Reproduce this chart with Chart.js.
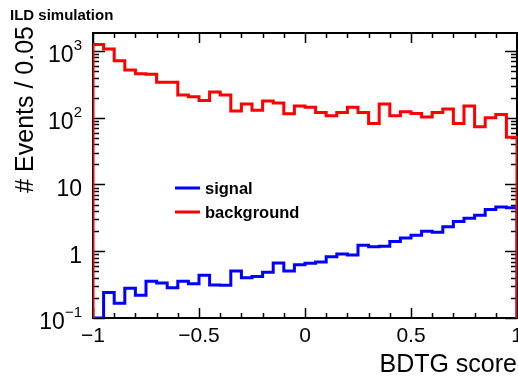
<!DOCTYPE html>
<html>
<head>
<meta charset="utf-8">
<script src="https://cdn.jsdelivr.net/npm/chart.js@4"></script>
<style>
html, body { margin: 0; padding: 0; background: #fff; }
canvas { display: block; }
</style>
</head>
<body>
<canvas id="chart" width="518" height="376"></canvas>
<script>
// histogram bins: 40 bins of width 0.05 from -1 to 1
const binLow = -1;
const binWidth = 0.05;

// signal (blue), events per bin
const signal = [
    0, 0.24, 0.166, 0.28, 0.22, 0.355, 0.335, 0.285, 0.355, 0.327,
    0.437, 0.313, 0.31, 0.507, 0.40, 0.417, 0.484, 0.668, 0.507, 0.63,
    0.66, 0.69, 0.83, 0.91, 0.88, 1.23, 1.17, 1.19, 1.40, 1.58,
    1.74, 2.0, 1.93, 2.32, 2.79, 3.13, 3.47, 4.22, 4.62, 4.47
];

// background (red), events per bin
const background = [
    1250, 1070, 716, 518, 457, 450, 339, 339, 219, 207,
    182, 243, 219, 126, 160, 130, 178, 166, 115, 150,
    143, 120, 107, 120, 143, 120, 82, 160, 107, 123,
    116, 103, 120, 135, 82, 150, 73, 100, 112, 51
];

const seriesLabels = ['signal', 'background'];
const seriesColors = ['#0000ff', '#ff0000'];

// axis ticks
const xTickValues = [-1, -0.5, 0, 0.5, 1];
const xTickLabels = ['\u22121', '\u22120.5', '0', '0.5', '1'];
const yTickValues = [0.1, 1, 10, 100, 1000];
const yTickBase = ['10', '1', '10', '10', '10'];
const yTickExp = ['\u22121', '', '', '2', '3'];

const yMin = 0.1;
const yMax = 1860;

const FONT = '"Liberation Sans", Arial, Helvetica, sans-serif';

// 轉成階梯直方圖的點
function histPoints(values) {
    const pts = [{ x: binLow, y: yMin }];
    values.forEach((v, i) => {
        pts.push({ x: binLow + i * binWidth, y: Math.max(v, yMin) });
    });
    const end = binLow + values.length * binWidth;
    pts.push({ x: end, y: Math.max(values[values.length - 1], yMin) });
    pts.push({ x: end, y: yMin });
    return pts;
}

// frame, inner ticks, tick labels, titles, legend
const rootStyle = {
    id: 'rootStyle',
    beforeDatasetsDraw(chart) {
        const { ctx, chartArea: a, scales } = chart;
        const xs = scales.x, ys = scales.y;
        ctx.save();
        ctx.strokeStyle = '#000';
        ctx.lineWidth = 1.5;
        ctx.beginPath();
        // x ticks every 0.1, major every 0.5
        for (let i = -10; i <= 10; i++) {
            const px = Math.round(xs.getPixelForValue(i / 10)) + 0.5;
            const len = (i % 5 === 0) ? 10 : 5;
            ctx.moveTo(px, a.bottom); ctx.lineTo(px, a.bottom - len);
            ctx.moveTo(px, a.top); ctx.lineTo(px, a.top + len);
        }
        // y log ticks
        for (let d = -1; d <= 3; d++) {
            for (let m = 1; m <= 9; m++) {
                const v = m * Math.pow(10, d);
                if (v < yMin || v > yMax) continue;
                const py = Math.round(ys.getPixelForValue(v)) + 0.5;
                const len = (m === 1) ? 12 : 6;
                ctx.moveTo(a.left, py); ctx.lineTo(a.left + len, py);
                ctx.moveTo(a.right, py); ctx.lineTo(a.right - len, py);
            }
        }
        ctx.stroke();
        ctx.lineWidth = 2;
        ctx.strokeRect(a.left, a.top, a.right - a.left, a.bottom - a.top);
        ctx.restore();
    },
    afterDraw(chart) {
        const { ctx, chartArea: a, scales } = chart;
        const xs = scales.x, ys = scales.y;
        ctx.save();
        ctx.fillStyle = '#000';

        // x tick labels
        ctx.font = '21px ' + FONT;
        ctx.textAlign = 'center';
        ctx.textBaseline = 'middle';
        xTickValues.forEach((v, i) => {
            ctx.fillText(xTickLabels[i], xs.getPixelForValue(v), a.bottom + 18);
        });

        // y tick labels with exponent
        const right = 82;
        yTickValues.forEach((v, i) => {
            const py = ys.getPixelForValue(v) + 5;
            ctx.textAlign = 'left';
            ctx.textBaseline = 'middle';
            ctx.font = '15px ' + FONT;
            const we = yTickExp[i] ? ctx.measureText(yTickExp[i]).width : 0;
            ctx.font = '23px ' + FONT;
            const wb = ctx.measureText(yTickBase[i]).width;
            ctx.fillText(yTickBase[i], right - we - wb, py);
            if (yTickExp[i]) {
                ctx.font = '15px ' + FONT;
                ctx.fillText(yTickExp[i], right - we, py - 10);
            }
        });

        // axis titles
        ctx.font = '25px ' + FONT;
        ctx.textAlign = 'right';
        ctx.textBaseline = 'alphabetic';
        ctx.fillText('BDTG score', 517, 372);

        ctx.save();
        ctx.translate(33, 26);
        ctx.rotate(-Math.PI / 2);
        ctx.font = '25px ' + FONT;
        ctx.textAlign = 'right';
        ctx.fillText('# Events / 0.05', 0, 0);
        ctx.restore();

        // header
        ctx.font = 'bold 15px ' + FONT;
        ctx.textAlign = 'left';
        ctx.fillText('ILD simulation', 10, 20);

        // legend
        ctx.font = 'bold 16.5px ' + FONT;
        ctx.textBaseline = 'middle';
        seriesLabels.forEach((lab, i) => {
            const y = 188 + i * 24;
            ctx.strokeStyle = seriesColors[i];
            ctx.lineWidth = 3;
            ctx.beginPath();
            ctx.moveTo(175, y); ctx.lineTo(200, y);
            ctx.stroke();
            ctx.fillText(lab, 205, y + 1);
        });
        ctx.restore();
    }
};

new Chart(document.getElementById('chart').getContext('2d'), {
    type: 'line',
    data: {
        datasets: [
            {
                label: seriesLabels[0],
                data: histPoints(signal),
                borderColor: seriesColors[0],
                borderWidth: 3,
                pointRadius: 0,
                fill: false,
                stepped: 'before',
                order: 2
            },
            {
                label: seriesLabels[1],
                data: histPoints(background),
                borderColor: seriesColors[1],
                borderWidth: 3,
                pointRadius: 0,
                fill: false,
                stepped: 'before',
                order: 1
            }
        ]
    },
    options: {
        responsive: false,
        animation: false,
        devicePixelRatio: 1,
        layout: { padding: { left: 93, right: 1, top: 33, bottom: 58 } },
        plugins: { legend: { display: false }, tooltip: { enabled: false } },
        scales: {
            x: { type: 'linear', min: -1, max: 1, display: false },
            y: { type: 'logarithmic', min: yMin, max: yMax, display: false }
        }
    },
    plugins: [rootStyle, {
        id: 'whiteBg',
        beforeDraw(chart) {
            const c = chart.ctx;
            c.save();
            c.fillStyle = '#fff';
            c.fillRect(0, 0, chart.width, chart.height);
            c.restore();
        }
    }]
});
</script>
</body>
</html>
